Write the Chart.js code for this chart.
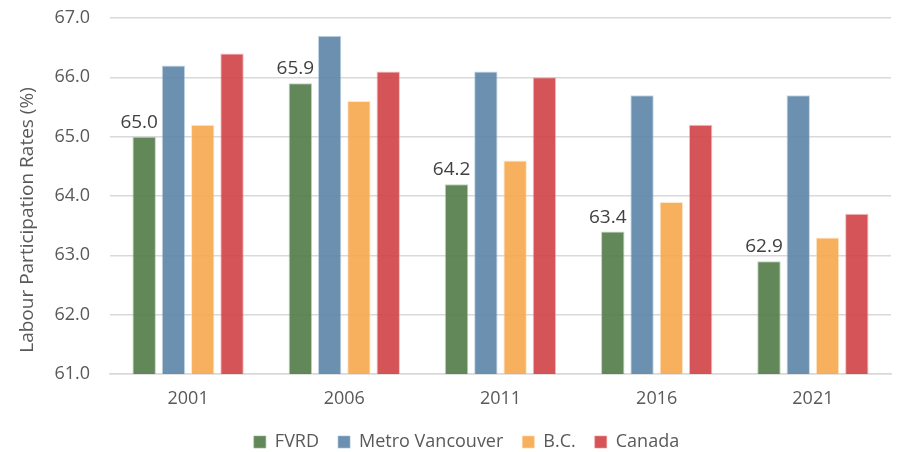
<!DOCTYPE html>
<html>
<head>
<meta charset="utf-8">
<script src="https://cdn.jsdelivr.net/npm/chart.js@4"></script>
<style>
html,body{margin:0;padding:0;background:#fff;}
#wrap{width:911px;height:452px;position:relative;}
</style>
</head>
<body>
<div id="wrap"><canvas id="c" width="911" height="452"></canvas></div>
<script>
const categories = ["2001", "2006", "2011", "2016", "2021"];
const fvrd = [65.0, 65.9, 64.2, 63.4, 62.9];
const metroVancouver = [66.2, 66.7, 66.1, 65.7, 65.7];
const bc = [65.2, 65.6, 64.6, 63.9, 63.3];
const canada = [66.4, 66.1, 66.0, 65.2, 63.7];
const seriesNames = ["FVRD", "Metro Vancouver", "B.C.", "Canada"];
const yTicks = [61, 62, 63, 64, 65, 66, 67];
const yTitle = "Labour Participation Rates (%)";

const FONT = "'Open Sans', 'Noto Sans', sans-serif";
const colors = ["rgba(81,122,71,0.9)", "rgba(92,133,167,0.9)", "rgba(246,167,76,0.9)", "rgba(208,65,69,0.9)"];
const borders = ["rgba(150,180,145,0.6)", "rgba(160,190,215,0.6)", "rgba(255,215,165,0.6)", "rgba(235,150,150,0.6)"];

const labelPlugin = {
  id: 'fvrdLabels',
  afterLayout(chart) {
    if (chart.legend) { chart.legend.left += 12; chart.legend.right += 12; }
  },
  afterDatasetsDraw(chart) {
    const ctx = chart.ctx;
    const meta = chart.getDatasetMeta(0);
    ctx.save();
    ctx.font = "19px " + FONT;
    ctx.fillStyle = "#404040";
    ctx.textAlign = "center";
    ctx.textBaseline = "alphabetic";
    meta.data.forEach((bar, i) => {
      ctx.fillText(fvrd[i].toFixed(1), bar.x - 5, bar.y - 9);
    });
    ctx.restore();
  },
  afterDraw(chart) {
    const ctx = chart.ctx;
    const a = chart.chartArea;
    ctx.save();
    ctx.font = "19px " + FONT;
    ctx.fillStyle = "#595959";
    ctx.textAlign = "center";
    ctx.textBaseline = "middle";
    ctx.translate(28, (a.top + a.bottom) / 2 + 24);
    ctx.rotate(-Math.PI / 2);
    ctx.fillText(yTitle, 0, 0);
    ctx.restore();
  }
};

new Chart(document.getElementById('c'), {
  type: 'bar',
  data: {
    labels: categories,
    datasets: [fvrd, metroVancouver, bc, canada].map((d, i) => ({
      label: seriesNames[i],
      data: d,
      backgroundColor: colors[i],
      borderColor: borders[i],
      borderWidth: 1,
      categoryPercentage: 0.75,
      barPercentage: 0.8
    }))
  },
  options: {
    responsive: false,
    animation: false,
    devicePixelRatio: 1,
    layout: { padding: { top: 18, right: 20, left: 18, bottom: -9 } },
    plugins: {
      legend: {
        position: 'bottom',
        labels: {
          font: { size: 18, family: FONT },
          color: "#595959",
          boxWidth: 12,
          boxHeight: 12,
          padding: 19
        }
      },
      tooltip: { enabled: false }
    },
    scales: {
      x: {
        afterFit: s => { s.height = 40; },
        grid: { display: false, drawTicks: false },
        border: { color: "#d9d9d9", width: 1.5 },
        ticks: { font: { size: 18, family: FONT }, color: "#595959", padding: 14 }
      },
      y: {
        min: 61, max: 67,
        afterBuildTicks: s => { s.ticks = yTicks.map(v => ({ value: v })); },
        afterFit: s => { s.width = 92; s.paddingTop = 0; s.paddingBottom = 0; },
        grid: { color: "#d9d9d9", lineWidth: 1.5, drawTicks: false },
        border: { display: false },
        ticks: {
          font: { size: 18, family: FONT }, color: "#595959", padding: 20,
          callback: v => Number(v).toFixed(1)
        }
      }
    }
  },
  plugins: [labelPlugin]
});
</script>
</body>
</html>
